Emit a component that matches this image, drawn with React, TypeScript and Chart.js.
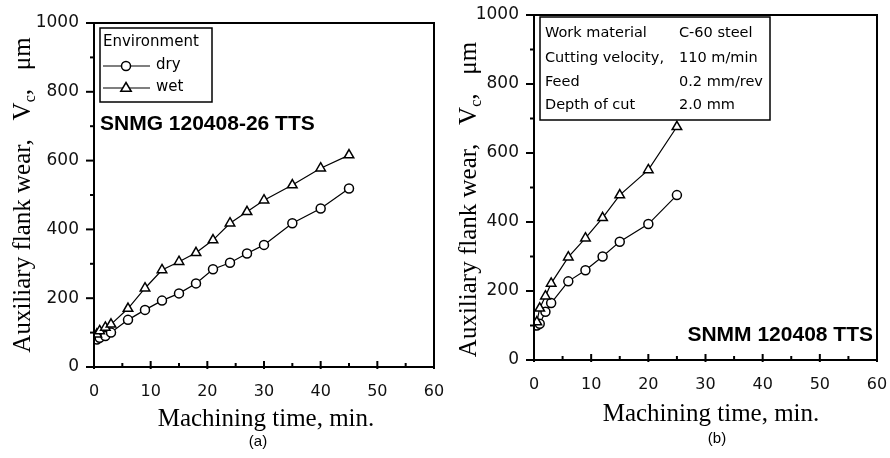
import React, { useEffect, useRef } from "react";
import { Chart, registerables } from "chart.js";

Chart.register(...registerables);

// ---- data ----
const leftTime = [0.5, 1, 2, 3, 6, 9, 12, 15, 18, 21, 24, 27, 30, 35, 40, 45];
const leftDry = [80, 85, 90, 100, 137, 166, 193, 214, 243, 284, 303, 330, 355, 418, 461, 519];
const leftWet = [95, 105, 115, 124, 170, 229, 282, 306, 332, 369, 418, 451, 485, 529, 578, 616];

const rightTime = [0.5, 1, 2, 3, 6, 9, 12, 15, 20, 25];
const rightDry = [100, 105, 140, 165, 228, 260, 300, 343, 394, 478];
const rightWet = [110, 150, 185, 222, 298, 353, 412, 478, 551, 676];

const legendTitle = "Environment";
const seriesNames = ["dry", "wet"];
const toolLeft = "SNMG 120408-26 TTS";
const toolRight = "SNMM 120408 TTS";
const conditionNames = ["Work material", "Cutting velocity,", "Feed", "Depth of cut"];
const conditionValues = ["C-60 steel", "110 m/min", "0.2 mm/rev", "2.0 mm"];
const xTitle = "Machining time, min.";
const yTitleMain = "Auxiliary flank wear,   V";
const yTitleSub = "c";
const yTitleEnd = ",   \u03bcm";
const panelCaptions = ["(a)", "(b)"];

const SERIF = "'Liberation Serif', 'Times New Roman', serif";
const SANS = "'DejaVu Sans', sans-serif";
const HELV = "'Liberation Sans', Arial, sans-serif";

function drawCircle(ctx: CanvasRenderingContext2D, x: number, y: number, r: number) {
  ctx.beginPath();
  ctx.arc(x, y, r, 0, Math.PI * 2);
  ctx.fillStyle = "#fff";
  ctx.fill();
  ctx.stroke();
}
function drawTri(ctx: CanvasRenderingContext2D, x: number, y: number, r: number) {
  ctx.beginPath();
  ctx.moveTo(x, y - r);
  ctx.lineTo(x + r * 0.95, y + r * 0.6);
  ctx.lineTo(x - r * 0.95, y + r * 0.6);
  ctx.closePath();
  ctx.fillStyle = "#fff";
  ctx.fill();
  ctx.stroke();
}

type PanelCfg = {
  time: number[];
  dry: number[];
  wet: number[];
  yWidth: number;
  xHeight: number;
  padTop: number;
  padRight: number;
  yTitleX: number;
  yTitleShift: number;
  xTitleX: number;
  xTitleY: number;
  caption: string;
  captionX: number;
  captionY: number;
  tool: string;
  toolX: number;
  toolY: number;
  toolAlign: CanvasTextAlign;
  legend: boolean;
  conditions: boolean;
};

function decoPlugin(cfg: PanelCfg) {
  return {
    id: "deco",
    afterDraw(chart: any) {
      const { ctx, chartArea: a, scales } = chart;
      const xs = scales.x;
      const ys = scales.y;
      ctx.save();
      ctx.strokeStyle = "#000";
      ctx.lineWidth = 2;
      ctx.strokeRect(a.left, a.top, a.right - a.left, a.bottom - a.top);

      // y ticks (outward) major + minor
      const yv = ys.ticks.map((t: any) => t.value);
      ctx.lineWidth = 2;
      yv.forEach((v: number, i: number) => {
        const py = ys.getPixelForValue(v);
        ctx.beginPath();
        ctx.moveTo(a.left - 8, py);
        ctx.lineTo(a.left, py);
        ctx.stroke();
        if (i < yv.length - 1) {
          const pm = ys.getPixelForValue((v + yv[i + 1]) / 2);
          ctx.beginPath();
          ctx.moveTo(a.left - 4, pm);
          ctx.lineTo(a.left, pm);
          ctx.stroke();
        }
      });
      // x ticks (inward)
      const xv = xs.ticks.map((t: any) => t.value);
      xv.forEach((v: number, i: number) => {
        const px = xs.getPixelForValue(v);
        ctx.beginPath();
        ctx.moveTo(px, a.bottom + 2);
        ctx.lineTo(px, a.bottom - 6);
        ctx.stroke();
        if (i < xv.length - 1) {
          const pm = xs.getPixelForValue((v + xv[i + 1]) / 2);
          ctx.beginPath();
          ctx.moveTo(pm, a.bottom);
          ctx.lineTo(pm, a.bottom - 4);
          ctx.stroke();
        }
      });

      ctx.fillStyle = "#000";
      // x title
      ctx.font = `25px ${SERIF}`;
      ctx.textAlign = "center";
      ctx.textBaseline = "alphabetic";
      ctx.fillText(xTitle, cfg.xTitleX, cfg.xTitleY);
      // caption
      ctx.font = `15px ${HELV}`;
      ctx.textBaseline = "middle";
      ctx.fillText(cfg.caption, cfg.captionX, cfg.captionY);

      // y title (rotated, with subscript)
      ctx.save();
      ctx.translate(cfg.yTitleX, (a.top + a.bottom) / 2 + cfg.yTitleShift);
      ctx.rotate(-Math.PI / 2);
      ctx.textAlign = "left";
      ctx.textBaseline = "alphabetic";
      ctx.font = `25px ${SERIF}`;
      const w1 = ctx.measureText(yTitleMain).width;
      const w3 = ctx.measureText(yTitleEnd).width;
      ctx.font = `16px ${SERIF}`;
      const w2 = ctx.measureText(yTitleSub).width;
      let x0 = -(w1 + w2 + w3) / 2;
      ctx.font = `25px ${SERIF}`;
      ctx.fillText(yTitleMain, x0, 0);
      x0 += w1;
      ctx.font = `16px ${SERIF}`;
      ctx.fillText(yTitleSub, x0, 5);
      x0 += w2;
      ctx.font = `25px ${SERIF}`;
      ctx.fillText(yTitleEnd, x0, 0);
      ctx.restore();

      // tool label
      ctx.font = `bold 21px ${HELV}`;
      ctx.textAlign = cfg.toolAlign;
      ctx.textBaseline = "alphabetic";
      ctx.fillText(cfg.tool, cfg.toolX, cfg.toolY);

      if (cfg.legend) {
        ctx.lineWidth = 1.5;
        ctx.strokeRect(a.left + 6, a.top + 5, 112, 74);
        ctx.font = `15px ${SANS}`;
        ctx.textAlign = "left";
        ctx.textBaseline = "middle";
        ctx.fillStyle = "#000";
        ctx.fillText(legendTitle, a.left + 9, a.top + 19);
        const rows = [a.top + 43, a.top + 65];
        rows.forEach((ry, i) => {
          ctx.lineWidth = 1.2;
          ctx.beginPath();
          ctx.moveTo(a.left + 9, ry);
          ctx.lineTo(a.left + 56, ry);
          ctx.stroke();
          ctx.lineWidth = 1.5;
          if (i === 0) drawCircle(ctx, a.left + 32, ry, 4.5);
          else drawTri(ctx, a.left + 32, ry, 5.5);
          ctx.fillStyle = "#000";
          ctx.fillText(seriesNames[i], a.left + 62, ry - 1);
        });
      }

      if (cfg.conditions) {
        ctx.lineWidth = 1.5;
        ctx.strokeRect(a.left + 6, a.top + 2, 230, 103);
        ctx.font = `14.5px ${SANS}`;
        ctx.textAlign = "left";
        ctx.textBaseline = "middle";
        const rowsY = [18, 43, 67, 90];
        conditionNames.forEach((n, i) => {
          ctx.fillText(n, a.left + 11, a.top + rowsY[i]);
          ctx.fillText(conditionValues[i], a.left + 145, a.top + rowsY[i]);
        });
      }
      ctx.restore();
    },
  };
}

function Panel({ cfg }: { cfg: PanelCfg }) {
  const ref = useRef<HTMLCanvasElement>(null);
  useEffect(() => {
    if (!ref.current) return;
    const chart = new Chart(ref.current, {
      type: "scatter",
      data: {
        datasets: [
          {
            label: seriesNames[1],
            data: cfg.time.map((t, i) => ({ x: t, y: cfg.wet[i] })),
            showLine: true,
            borderColor: "#000",
            borderWidth: 1.2,
            pointStyle: "triangle",
            pointRadius: 5.5,
            pointBorderWidth: 1.5,
            pointBackgroundColor: "#fff",
            pointBorderColor: "#000",
          },
          {
            label: seriesNames[0],
            data: cfg.time.map((t, i) => ({ x: t, y: cfg.dry[i] })),
            showLine: true,
            borderColor: "#000",
            borderWidth: 1.2,
            pointStyle: "circle",
            pointRadius: 4.5,
            pointBorderWidth: 1.5,
            pointBackgroundColor: "#fff",
            pointBorderColor: "#000",
          },
        ],
      },
      options: {
        responsive: false,
        animation: false,
        devicePixelRatio: 1,
        layout: { padding: { top: cfg.padTop, right: cfg.padRight, left: 0, bottom: 0 } },
        plugins: { legend: { display: false }, tooltip: { enabled: false } },
        scales: {
          x: {
            type: "linear",
            min: 0,
            max: 60,
            ticks: {
              stepSize: 10,
              padding: 15,
              color: "#111",
              font: { family: SANS, size: 16 },
              maxRotation: 0,
              callback: (v: any) => String(v),
            },
            grid: { display: false, drawTicks: false },
            border: { display: false },
            afterFit: (s: any) => {
              s.height = cfg.xHeight;
              s.paddingLeft = 0;
              s.paddingRight = 0;
            },
          },
          y: {
            type: "linear",
            min: 0,
            max: 1000,
            ticks: {
              stepSize: 200,
              padding: 15,
              color: "#111",
              font: { family: SANS, size: 17 },
              callback: (v: any) => String(v),
            },
            grid: { display: false, drawTicks: false },
            border: { display: false },
            afterFit: (s: any) => {
              s.width = cfg.yWidth;
              s.paddingTop = 0;
              s.paddingBottom = 0;
            },
          },
        },
      },
      plugins: [decoPlugin(cfg)],
    } as any);
    return () => chart.destroy();
  }, []);
  return <canvas ref={ref} width={445} height={458} style={{ display: "block", width: 445, height: 458 }} />;
}

const leftCfg: PanelCfg = {
  time: leftTime,
  dry: leftDry,
  wet: leftWet,
  yWidth: 94,
  xHeight: 91,
  padTop: 23,
  padRight: 11,
  yTitleX: 30,
  yTitleShift: 0,
  xTitleX: 266,
  xTitleY: 426,
  caption: panelCaptions[0],
  captionX: 258,
  captionY: 442,
  tool: toolLeft,
  toolX: 100,
  toolY: 130,
  toolAlign: "left",
  legend: true,
  conditions: false,
};

const rightCfg: PanelCfg = {
  time: rightTime,
  dry: rightDry,
  wet: rightWet,
  yWidth: 89,
  xHeight: 98,
  padTop: 15,
  padRight: 13,
  yTitleX: 31,
  yTitleShift: 12,
  xTitleX: 266,
  xTitleY: 421,
  caption: panelCaptions[1],
  captionX: 272,
  captionY: 439,
  tool: toolRight,
  toolX: 428,
  toolY: 341,
  toolAlign: "right",
  legend: false,
  conditions: true,
};

export default function App() {
  return (
    <div
      style={{
        position: "fixed",
        left: 0,
        top: 0,
        width: 890,
        height: 458,
        display: "flex",
        background: "#fff",
      }}
    >
      <Panel cfg={leftCfg} />
      <Panel cfg={rightCfg} />
    </div>
  );
}
